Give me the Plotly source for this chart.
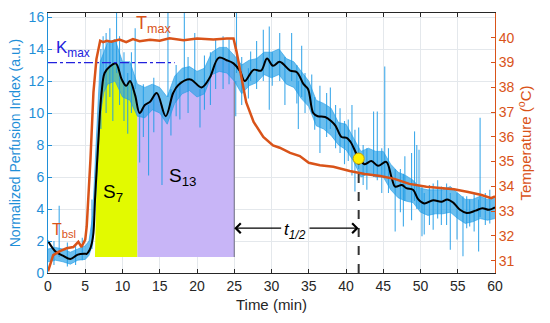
import plotly.graph_objects as go
import numpy as np

# ---------------- data ----------------
black_t = [0, 1, 2, 3, 4, 5, 5.2, 5.6, 5.9, 6.1, 6.3, 6.55, 6.8, 7.0, 7.2, 7.6, 8.3, 9.1, 9.9,
           10.5, 11.0, 11.7, 12.3, 13.0, 13.7, 14.6, 15.8, 16.8, 17.5, 19.1, 20.6, 21.7, 22.9,
           24.0, 24.9, 25.8, 26.4, 27.6, 28.6, 29.4, 30.2, 31.1, 32.5, 33.4, 34.3, 34.9, 35.6,
           36.2, 37.2, 38.0, 38.6, 39.4, 40.1, 40.6, 41.7, 42.5, 43.4, 44.3, 45.4, 46.1, 46.6,
           47.5, 48.1, 49.0, 49.7, 50.5, 51.7, 52.8, 53.6, 54.4, 55.3, 56.2, 57.4, 58.3, 59.2, 60]
black_v = [2.0, 1.35, 1.08, 0.87, 1.15, 1.2, 1.2, 1.45, 1.9, 2.5, 4.5, 6.6, 8.6, 10.2, 11.3, 12.5,
           12.9, 13.1, 12.1, 11.7, 12.0, 11.1, 10.0, 10.5, 10.7, 11.25, 9.8, 11.25, 11.75, 12.1,
           11.6, 12.2, 13.45, 13.3, 13.1, 12.6, 12.0, 12.7, 12.65, 13.4, 12.95, 13.2, 12.65, 12.55,
           11.8, 11.5, 10.0, 9.8, 9.75, 9.5, 9.2, 8.5, 8.45, 8.2, 7.2, 6.8, 7.0, 6.7, 6.95, 6.0,
           5.4, 5.5, 5.3, 5.2, 4.6, 4.35, 4.55, 4.45, 4.6, 4.4, 3.95, 3.75, 3.9, 4.05, 3.95, 4.1]

# raw perfusion signal: dense core (low / high envelope) plus individual spikes
env_t = [0, 1, 2, 3, 4, 5, 5.5, 6, 6.5, 7, 7.5, 8, 9, 10, 11, 12, 13, 14, 15, 16, 17, 18, 19, 20,
         21, 22, 23, 24, 25, 26, 27, 28, 29, 30, 31, 32, 33, 34, 35, 36, 37, 38, 39, 40, 41, 42,
         43, 44, 45, 46, 47, 48, 49, 50, 51, 52, 53, 54, 55, 56, 57, 58, 59, 60]
env_lo = [0.7, 0.8, 0.7, 0.55, 0.8, 0.85, 1.1, 1.8, 5.5, 9.8, 11.3, 11.8, 12.0, 11.0, 10.8, 9.8,
          9.7, 10.2, 10.0, 9.3, 10.6, 11.2, 11.4, 11.0, 11.2, 12.4, 12.6, 12.5, 12.0, 11.2, 11.7,
          11.9, 12.4, 12.2, 12.4, 11.8, 11.6, 10.9, 10.4, 9.2, 9.0, 8.6, 8.0, 7.7, 7.0, 6.0, 6.2,
          6.0, 6.0, 5.2, 4.7, 4.5, 4.4, 3.8, 3.6, 3.7, 3.7, 3.8, 3.4, 3.1, 3.2, 3.4, 3.3, 3.4]
env_hi = [1.5, 1.6, 1.5, 1.3, 1.5, 1.7, 2.0, 3.6, 8.5, 13.2, 13.8, 14.4, 14.6, 13.2, 13.2, 11.8,
          11.6, 11.8, 11.6, 11.0, 12.3, 12.8, 12.9, 12.6, 12.8, 13.8, 14.1, 14.1, 13.6, 13.0, 13.3,
          13.4, 13.8, 13.8, 14.0, 13.4, 13.2, 12.6, 12.0, 10.8, 10.6, 10.3, 9.4, 9.3, 8.4, 7.6,
          7.8, 7.6, 7.6, 6.8, 6.3, 6.1, 5.8, 5.3, 5.2, 5.2, 5.2, 5.4, 5.0, 4.6, 4.6, 4.8, 4.6, 4.8]
spike_t = [0.8, 1.5, 2.6, 3.7, 4.6, 5.9,
           7.1, 7.4, 7.8, 8.3, 8.7, 9.2, 9.6, 10.2, 10.7, 11.2, 11.7,
           12.3, 12.8, 13.5, 14.2, 15.3, 16.1, 16.5, 17.2, 17.7, 18.3, 18.8, 19.7, 20.4, 21.0,
           21.8, 22.5, 23.5, 24.3, 25.2, 25.3,
           26.0, 26.9, 27.2, 28.0, 28.9, 29.7, 30.1, 31.1, 31.8, 32.7, 33.4, 33.6, 34.05, 34.5,
           35.4, 35.8, 36.5, 37.4, 37.9, 38.6, 39.2, 39.8, 40.3, 40.8, 41.2, 41.7, 42.3, 42.8,
           43.7, 44.2, 44.8, 45.2,
           45.7, 46.6, 47.3, 47.7, 47.9, 48.8, 49.2, 49.5, 49.8, 50.2, 50.5, 51.2, 51.7, 52.3,
           52.8, 53.5, 54.0, 54.9, 55.7, 56.2, 56.6, 57.2, 57.8, 58.0, 58.7, 59.3]
spike_lo = [0.5, 1.0, 0.4, 0.5, 0.8, 1.5,
            9.0, 12.0, 10.0, 11.0, 9.5, 12.5, 10.5, 9.5, 8.7, 10.0, 11.5,
            6.9, 8.5, 6.1, 8.8, 5.5, 11.0, 8.6, 9.8, 9.6, 12.0, 10.0, 12.0, 9.1, 10.2,
            10.5, 11.5, 11.5, 11.8, 9.8, 12.5,
            10.5, 10.9, 12.0, 11.5, 12.0, 10.2, 11.7, 12.0, 10.5, 12.0, 10.6, 9.0, 11.0, 10.0,
            10.0, 8.96, 7.5, 8.5, 9.0, 7.8, 7.5, 6.8, 7.0, 6.1, 5.1, 6.5, 5.5, 5.2,
            6.0, 5.8, 5.0, 6.0,
            5.0, 2.6, 3.8, 2.9, 4.5, 3.3, 4.5, 4.0, 4.0, 2.3, 2.4, 3.0, 2.7, 3.4,
            3.0, 3.0, 1.46, 2.1, 1.04, 2.8, 2.9, 2.6, 1.35, 3.5, 3.0, 3.1]
spike_hi = [2.0, 4.2, 1.9, 1.8, 2.2, 4.6,
            14.0, 14.8, 15.0, 15.3, 14.5, 16.25, 14.8, 13.8, 12.5, 13.8, 15.3,
            10.0, 11.8, 10.5, 12.2, 10.5, 16.25, 11.5, 13.0, 12.0, 16.25, 13.5, 15.0, 11.5, 13.6,
            13.8, 14.6, 14.8, 14.6, 12.0, 16.25,
            13.5, 12.8, 13.85, 14.5, 15.2, 15.4, 13.8, 15.0, 13.5, 15.0, 13.0, 12.0, 14.2, 12.5,
            12.4, 11.0, 11.7, 11.25, 11.6, 10.5, 10.3, 9.5, 9.6, 10.5, 8.96, 9.1, 8.0, 7.8,
            10.1, 10.1, 7.8, 12.9,
            7.8, 6.5, 6.5, 6.2, 7.3, 7.5, 8.85, 8.0, 7.7, 5.5, 5.0, 5.5, 5.6, 5.8,
            5.4, 5.6, 5.0, 5.0, 4.8, 4.8, 4.6, 5.0, 4.6, 9.7, 5.0, 5.2]

temp_t = [0, 0.7, 1.6, 2.5, 3.4, 4.07, 4.5, 5.0, 5.2, 5.4, 5.7, 6.1, 6.5, 7.0, 7.4, 7.9, 8.5, 9.6,
          10.5, 11.4, 12.3, 13.7, 15.0, 16.3, 18.2, 20.0, 22.2, 24.0, 24.9, 25.3, 25.9, 26.6,
          27.6, 28.9, 30.2, 31.1, 32.5, 33.8, 35.0, 36.5, 38.3, 40.5, 42.5, 44.6, 46.5, 48.5,
          50.8, 52.5, 54.5, 56.4, 58.2, 59.5, 60]
temp_T = [30.57, 31.22, 31.38, 31.5, 31.55, 31.76, 31.55, 31.85, 32.39, 33.47, 35.1, 37.8, 39.14,
          39.88, 39.82, 39.88, 39.84, 39.93, 39.82, 39.95, 39.86, 39.92, 39.88, 39.98, 39.9,
          39.97, 39.93, 39.97, 39.97, 39.45, 38.5, 37.4, 36.6, 36.0, 35.65, 35.56, 35.35, 35.22,
          34.95, 34.85, 34.79, 34.62, 34.5, 34.42, 34.3, 34.1, 33.98, 33.94, 33.88, 33.77, 33.65,
          33.52, 33.6]

k_max = 13.15          # dash-dot reference level
k_max_t = [0, 17]
area_base = 1.0
s7_span = [6.3, 12.0]
s13_span = [12.0, 25.0]
t_half = 41.7
t_half_v = 7.15
arrow_level = 2.8

x_ticks = list(range(0, 61, 5))
y_ticks = list(range(0, 17, 2))
y2_ticks = list(range(31, 41))

BLUE = "#1E9BE6"
AXBLUE = "#1f8fd8"
ORANGE = "#D95319"
DARK = "#262626"
FONT = "Liberation Sans, Arial, sans-serif"

bt = np.array(black_t)
bv = np.array(black_v)


def area(span, start_at_base):
    a, b = span
    inner = (bt > a) & (bt < b)
    xs = list(bt[inner])
    ys = list(bv[inner])
    x0 = [a]
    y0 = [area_base if start_at_base else float(np.interp(a, bt, bv))]
    xe = [b, b]
    ye = [float(np.interp(b, bt, bv)), area_base]
    X = x0 + xs + xe + [a]
    Y = y0 + ys + ye + [area_base]
    return X, Y


fig = go.Figure()

x7, y7 = area(s7_span, True)
fig.add_trace(go.Scatter(x=x7, y=y7, fill="toself", fillcolor="#E2FA00",
                         line=dict(width=0), mode="lines", hoverinfo="skip"))
x13, y13 = area(s13_span, False)
fig.add_trace(go.Scatter(x=x13, y=y13, fill="toself", fillcolor="#C8B5F7",
                         line=dict(width=0), mode="lines", hoverinfo="skip"))
fig.add_trace(go.Scatter(x=[s13_span[1], s13_span[1]],
                         y=[area_base, float(np.interp(s13_span[1], bt, bv))],
                         mode="lines", line=dict(color="#6f6f80", width=1)))

# raw signal: core band + spikes
fig.add_trace(go.Scatter(x=env_t, y=env_lo, mode="lines", line=dict(width=0.6, color=BLUE)))
fig.add_trace(go.Scatter(x=env_t, y=env_hi, mode="lines", line=dict(width=0.6, color=BLUE),
                         fill="tonexty", fillcolor="rgba(50,165,232,0.72)"))
sx, sy = [], []
for t, lo, hi in zip(spike_t, spike_lo, spike_hi):
    sx += [t, t, None]
    sy += [lo, hi, None]
fig.add_trace(go.Scatter(x=sx, y=sy, mode="lines",
                         line=dict(color="rgba(30,155,230,0.85)", width=1.1)))

# smoothed signal
fig.add_trace(go.Scatter(x=black_t, y=black_v, mode="lines", line=dict(color="black", width=2),
                         line_shape="spline"))

# K_max line
fig.add_trace(go.Scatter(x=k_max_t, y=[k_max, k_max], mode="lines",
                         line=dict(color="#2222dd", width=1.3, dash="dashdot")))

# t1/2 dashed vertical
fig.add_trace(go.Scatter(x=[t_half, t_half], y=[0, t_half_v + 0.5], mode="lines",
                         line=dict(color="#333333", width=2, dash="dash")))

# temperature
fig.add_trace(go.Scatter(x=temp_t, y=temp_T, mode="lines", yaxis="y2",
                         line=dict(color=ORANGE, width=2.5)))

fig.add_trace(go.Scatter(x=[t_half], y=[t_half_v], mode="markers",
                         marker=dict(size=11, color="#FFF200", line=dict(color="#c8a000", width=1))))

fig.update_traces(showlegend=False)

ann = [
    dict(x=14.2, y=15.55, text="T<sub>max</sub>", font=dict(color=ORANGE, size=18)),
    dict(x=3.4, y=14.0, text="K<sub>max</sub>", font=dict(color="#2222dd", size=17)),
    dict(x=8.7, y=5.0, text="S<sub>7</sub>", font=dict(color="black", size=19)),
    dict(x=18.0, y=6.0, text="S<sub>13</sub>", font=dict(color="black", size=19)),
    dict(x=2.1, y=2.65, text="T<sub>bsl</sub>", font=dict(color=ORANGE, size=16)),
    dict(x=33.2, y=2.6, text="<i>t<sub>1/2</sub></i>", font=dict(color="black", size=17)),
]
for a in ann:
    a.update(xref="x", yref="y", showarrow=False)
ann.append(dict(x=25.0, y=arrow_level, ax=31.5, ay=arrow_level, xref="x", yref="y",
                axref="x", ayref="y", text="", showarrow=True, arrowhead=4, arrowsize=1.6,
                arrowwidth=1.2, arrowcolor="black", standoff=0, startstandoff=0))
ann.append(dict(x=t_half, y=arrow_level, ax=34.9, ay=arrow_level, xref="x", yref="y",
                axref="x", ayref="y", text="", showarrow=True, arrowhead=4, arrowsize=1.6,
                arrowwidth=1.2, arrowcolor="black", standoff=0, startstandoff=0))

GRID = "#e4e8ec"
fig.update_layout(
    width=550, height=323,
    margin=dict(l=48, r=55, t=13, b=50, autoexpand=False),
    paper_bgcolor="white", plot_bgcolor="white",
    font=dict(family=FONT, size=14, color=DARK),
    annotations=ann,
    xaxis=dict(range=[0, 60], tickvals=x_ticks, ticks="inside", ticklen=4, tickcolor=DARK,
               showline=True, linecolor=DARK, linewidth=1, mirror="ticks", automargin=False,
               showgrid=True, gridcolor=GRID, zeroline=False,
               tickfont=dict(size=14, color=DARK),
               title=dict(text="Time (min)", font=dict(size=15, color=DARK), standoff=6)),
    yaxis=dict(range=[0, 16.25], tickvals=y_ticks, ticks="inside", ticklen=4, tickcolor=AXBLUE,
               showline=True, linecolor=AXBLUE, linewidth=1, showgrid=True, gridcolor=GRID,
               zeroline=False, tickfont=dict(size=14, color=AXBLUE), automargin=False,
               title=dict(text="Normalized Perfusion Index (a.u.)", font=dict(size=14, color=AXBLUE),
                          standoff=4)),
    yaxis2=dict(range=[30.5, 41], tickvals=y2_ticks, overlaying="y", side="right",
                ticks="inside", ticklen=4, tickcolor=ORANGE, showline=True, linecolor=ORANGE,
                linewidth=1, showgrid=False, zeroline=False, tickfont=dict(size=14, color=ORANGE),
                automargin=False,
                title=dict(text="Temperature (<sup>o</sup>C)", font=dict(size=15, color=ORANGE),
                           standoff=4)),
)

fig.write_html("out.html", post_script="document.body.style.margin='0';",
               config={"displayModeBar": False})
